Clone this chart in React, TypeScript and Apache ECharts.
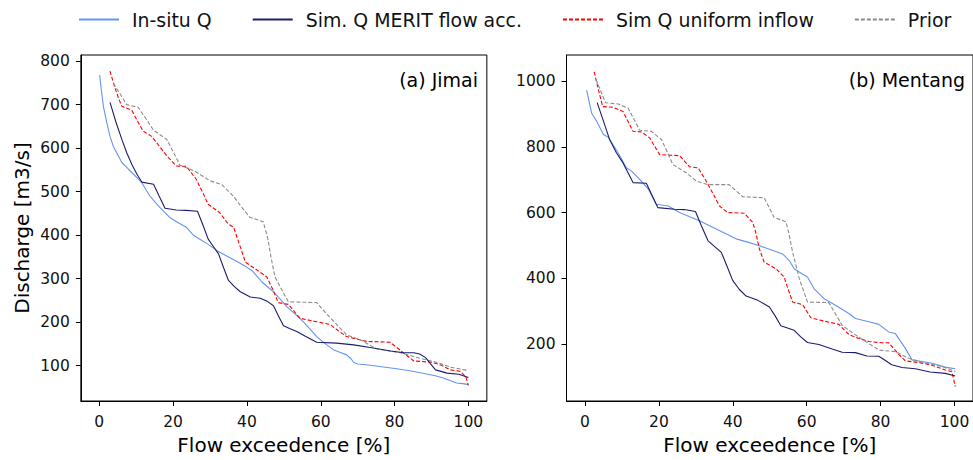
import React, { useEffect, useRef } from "react";
import * as echarts from "echarts";

const seriesNames = ["In-situ Q", "Sim. Q MERIT flow acc.", "Sim Q uniform inflow", "Prior"];
const panelLabels = ["(a) Jimai", "(b) Mentang"];
const xTitle = "Flow exceedence [%]";
const yTitle = "Discharge [m3/s]";

const xTicks = [0, 20, 40, 60, 80, 100];
const jimaiYTicks = [100, 200, 300, 400, 500, 600, 700, 800];
const mentangYTicks = [200, 400, 600, 800, 1000];

// Jimai
const jimaiInSitu: [number, number][] = [
  [0.1, 768], [0.6, 730], [1.1, 696], [2.0, 660], [2.9, 627], [3.8, 604], [5.0, 585], [6.1, 567],
  [7.5, 555], [8.8, 544], [10.2, 532], [11.5, 521], [12.6, 505], [13.7, 490], [15.0, 477], [16.4, 464],
  [17.8, 452], [19.2, 440], [21.5, 428], [23.6, 418], [25.5, 400], [26.8, 393], [29.3, 380], [31.8, 365],
  [34.5, 352], [37.2, 340], [39.3, 330], [41.3, 319], [42.7, 306], [44, 293], [45.5, 282], [47.2, 270],
  [49, 253], [50.8, 236], [53, 219], [55.3, 201], [57.1, 184], [58.9, 167], [61, 152], [63.4, 137],
  [65.5, 130], [67, 125], [68.2, 116], [68.9, 108], [70, 104], [73.4, 101], [77, 97], [80.6, 93],
  [84.5, 88], [88.7, 81], [91, 77], [93.2, 72], [95, 66], [96.8, 60.5], [98.5, 59], [100, 56.6],
];
const jimaiMerit: [number, number][] = [
  [2.9, 705], [4.5, 660], [6.1, 620], [7.4, 590], [8.8, 563], [10.2, 540], [11.5, 522], [14.7, 517],
  [16.2, 490], [17.8, 462], [20.9, 458], [23.5, 457], [26.6, 455], [28, 425], [29.5, 391], [30.9, 374],
  [32.3, 357], [33.6, 327], [35, 296], [36.6, 282], [38.2, 270], [40.9, 258], [43.6, 255], [45.5, 248],
  [47.2, 238], [48.5, 215], [49.9, 192], [51.7, 185], [53.5, 178.5], [56.2, 166], [58.9, 154], [64.3, 152],
  [68.9, 148], [73.4, 142], [78.9, 134], [82.5, 130], [85.2, 130], [86.8, 127], [88.4, 118.7], [89.7, 105],
  [91.1, 90.5], [94.2, 83], [97.4, 80.6], [100, 73],
];
const jimaiUniform: [number, number][] = [
  [2.9, 777], [4.1, 742], [5.2, 715], [6.1, 696], [8.8, 687], [10.3, 663], [11.9, 639], [14.2, 627],
  [16.2, 605], [18.3, 582], [20.9, 559], [23.6, 558], [26.3, 528], [27.9, 500], [29.5, 471], [32.6, 452],
  [34.9, 426], [36.4, 418], [38, 378], [39.6, 338], [42.2, 323], [45.4, 304], [47, 275], [48.5, 245],
  [51.2, 241], [52.8, 225], [54.4, 209], [58.9, 201], [62.5, 195], [64.8, 180], [67, 167], [72.4, 156],
  [78.8, 154], [80.6, 142], [82.5, 129], [85.2, 111], [90.1, 108], [92.4, 102], [95.1, 90.5], [97.8, 87],
  [99.3, 75], [100, 55],
];
const jimaiPrior: [number, number][] = [
  [3.8, 749], [5.6, 725], [7.4, 700], [10.5, 694], [12.6, 668], [14.7, 641], [18.3, 620], [20.1, 590],
  [21.9, 560.5], [25.9, 547], [30, 525], [33.2, 516], [36.3, 490], [38.5, 465], [40.8, 441], [44.4, 431],
  [45.7, 391], [46.5, 350], [47.6, 304], [49.4, 275], [51.2, 247], [58.9, 245], [61.5, 220], [64.3, 195],
  [67, 171], [70.6, 160], [75.1, 139], [81.5, 130], [86.9, 117], [91.3, 108], [95.1, 96.8], [100, 89],
];

// Mentang
const mentangInSitu: [number, number][] = [
  [0.45, 972], [1.8, 902], [3.2, 877], [5, 837], [6.3, 829], [9, 781], [11.2, 736], [12.6, 726],
  [14.8, 701], [17.1, 672], [19.3, 625], [22.5, 620], [25.6, 600], [28.8, 585], [31, 575], [33.7, 560],
  [37.3, 540], [40.9, 520], [44, 510], [47.2, 499], [50.3, 487], [53.5, 474], [55.3, 454], [56.6, 429],
  [58.4, 416], [60.2, 404], [62, 368], [64.7, 338], [67.8, 318], [71.4, 293], [73.2, 278], [76.8, 268],
  [79.5, 260], [82.2, 237], [84, 232], [86.7, 187], [88.5, 152], [93.9, 142], [97.5, 130], [100.2, 125],
];
const mentangMerit: [number, number][] = [
  [3.3, 934], [5, 878], [6.7, 821], [8.5, 782], [10.3, 751], [13, 691], [16.6, 689], [19.7, 615],
  [24.2, 610], [26.9, 609], [29.9, 603], [31.5, 560], [33.3, 514], [36.9, 479], [38.5, 435], [40, 393],
  [41.8, 366], [43.6, 346], [46.8, 333], [49.9, 313], [51.5, 285], [53, 256], [56.6, 242], [58.4, 222],
  [60.2, 205], [63.3, 199], [66.9, 185], [69.6, 175], [73.2, 174], [76.3, 164], [79.5, 163], [81.3, 150],
  [83, 137], [85.8, 129], [89.4, 125], [93.4, 115], [97.5, 111], [100.2, 103],
];
const mentangUniform: [number, number][] = [
  [2.5, 1028], [3.6, 975], [4.8, 922], [7.6, 920], [10.3, 907], [13, 847], [15.3, 845], [17.5, 827],
  [20.2, 776], [25.6, 773], [28.3, 739], [30.6, 736], [32.8, 696], [34.6, 658], [36.4, 620], [38.6, 600],
  [43.1, 598], [45.4, 570], [46.2, 540], [47.2, 489], [48.5, 449], [51.7, 429], [53.9, 404], [55, 366],
  [56.2, 328], [58.9, 320], [61.1, 280], [64.7, 270], [68.7, 260], [71.4, 229], [74.1, 217], [76.8, 208],
  [80.4, 204], [82.2, 204], [84.9, 169], [86.7, 149], [90.3, 144], [93.9, 136], [97.5, 121], [99.3, 116],
  [100.2, 71],
];
const mentangPrior: [number, number][] = [
  [3, 1005], [4.3, 968], [5.6, 934], [9, 930], [11.7, 917], [14.8, 850], [17.9, 847], [20.7, 822],
  [23.8, 746], [27.4, 721], [30.1, 696], [33.2, 685], [39, 685], [42.7, 648], [48.5, 645], [51.2, 585],
  [54.4, 572], [55.3, 530], [56.2, 479], [58, 399], [60.2, 328], [66, 326], [69.6, 257], [73.2, 228],
  [79.5, 182], [84, 177], [87.6, 157], [92.1, 142], [96.6, 132], [100.2, 117],
];

const FONT = "DejaVu Sans";
const lineColors = ["#6495ed", "#1c1c6e", "#ff0000", "#8c8c8c"];
const lineTypes: any[] = ["solid", "solid", [4, 2], [4, 2]];

export default function App() {
  const ref = useRef<HTMLDivElement>(null);
  useEffect(() => {
    document.body.style.margin = "0";
    const chart = echarts.init(ref.current!, null, { renderer: "svg" });

    const labelFmt = (v: number) => String(v);
    const xAxisBase = (gridIndex: number) => ({
      type: "value",
      gridIndex,
      min: -5,
      max: 105,
      name: xTitle,
      nameLocation: "middle",
      nameGap: 34,
      nameTextStyle: { fontFamily: FONT, fontSize: 20, color: "#000" },
      axisLine: { show: true, onZero: false, lineStyle: { color: "#000", width: 1 } },
      axisTick: { show: true, inside: false, length: 5, customValues: xTicks, lineStyle: { color: "#000" } },
      axisLabel: { customValues: xTicks, formatter: labelFmt, margin: 13, fontFamily: FONT, fontSize: 15.5, color: "#111" },
      splitLine: { show: false },
    });
    const yAxisBase = (gridIndex: number, min: number, max: number, ticks: number[]) => ({
      type: "value",
      gridIndex,
      min,
      max,
      axisLine: { show: true, onZero: false, lineStyle: { color: "#000", width: 1 } },
      axisTick: { show: true, inside: false, length: 5, customValues: ticks, lineStyle: { color: "#000" } },
      axisLabel: { customValues: ticks, formatter: labelFmt, margin: 11, fontFamily: FONT, fontSize: 15.5, color: "#111" },
      splitLine: { show: false },
    });

    const panels = [
      [jimaiInSitu, jimaiMerit, jimaiUniform, jimaiPrior],
      [mentangInSitu, mentangMerit, mentangUniform, mentangPrior],
    ];
    const series: any[] = [];
    panels.forEach((sets, p) => {
      sets.forEach((data, i) => {
        series.push({
          type: "line",
          name: seriesNames[i],
          xAxisIndex: p,
          yAxisIndex: p,
          data,
          symbol: "none",
          color: lineColors[i],
          lineStyle: { color: lineColors[i], width: 1.1, type: lineTypes[i] },
          z: 2 + (i === 1 ? 1 : 0),
        });
      });
    });

    const yAxes: any[] = [
      {
        ...yAxisBase(0, 19, 814, jimaiYTicks),
        name: yTitle,
        nameLocation: "middle",
        nameGap: 49,
        nameTextStyle: { fontFamily: FONT, fontSize: 20, color: "#000" },
      },
      yAxisBase(1, 27, 1079, mentangYTicks),
    ];

    chart.setOption({
      animation: false,
      backgroundColor: "#fff",
      legend: {
        data: seriesNames,
        left: 73,
        top: 5,
        itemWidth: 40,
        itemHeight: 14,
        itemGap: 40,
        itemStyle: { opacity: 0, color: "transparent", borderWidth: 0 },
        textStyle: { fontFamily: FONT, fontSize: 18.9, color: "#111", padding: [0, 0, 0, 8] },
      },
      grid: [
        { left: 80.85, top: 55, width: 406, height: 348, show: true, borderColor: "#000", borderWidth: 1, containLabel: false },
        { left: 566.5, top: 55, width: 408, height: 348, show: true, borderColor: "#000", borderWidth: 1, containLabel: false },
      ],
      xAxis: [xAxisBase(0), xAxisBase(1)],
      yAxis: yAxes,
      series,
      graphic: [
        {
          type: "text",
          right: 973 - 478,
          top: 70,
          style: { text: panelLabels[0], font: `19px "${FONT}"`, fill: "#000", textAlign: "right" },
        },
        {
          type: "text",
          right: 973 - 965,
          top: 70,
          style: { text: panelLabels[1], font: `19px "${FONT}"`, fill: "#000", textAlign: "right" },
        },
      ],
    });
    return () => chart.dispose();
  }, []);
  return <div ref={ref} style={{ width: 973, height: 460 }} />;
}
